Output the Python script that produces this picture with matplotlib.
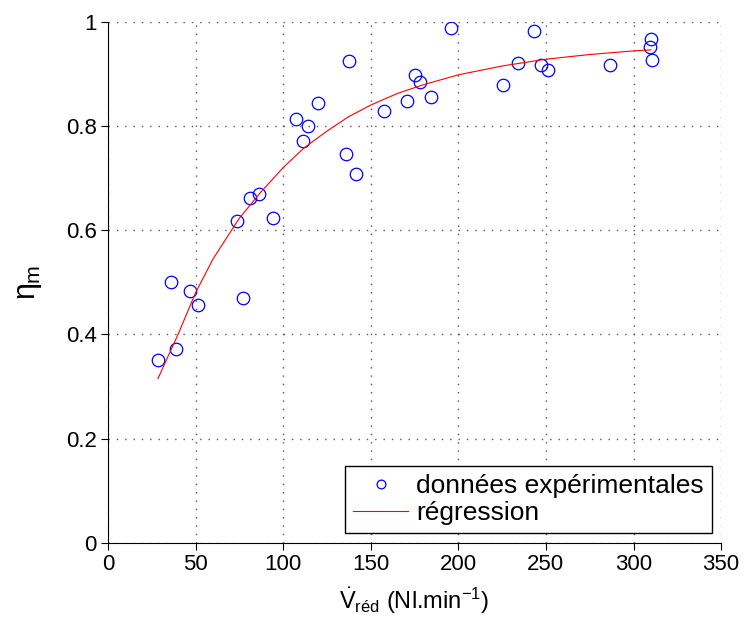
import matplotlib
matplotlib.use("Agg")
import matplotlib.pyplot as plt

plt.rcParams['font.family'] = ['Liberation Sans', 'DejaVu Sans']
plt.rcParams['mathtext.fontset'] = 'custom'
plt.rcParams['mathtext.rm'] = 'Liberation Sans'
plt.rcParams['mathtext.it'] = 'Liberation Sans'
plt.rcParams['mathtext.bf'] = 'Liberation Sans:bold'

# experimental data
x_data = [28.5, 38.8, 35.9, 47.0, 51.5, 77.0, 73.8, 81.2, 86.0, 94.3,
          107.3, 111.3, 114.0, 119.7, 135.9, 137.4, 141.6, 157.6, 170.9,
          175.4, 178.1, 184.2, 195.8, 225.7, 234.3, 243.4, 247.4, 251.2,
          286.6, 309.9, 309.3, 310.8]
y_data = [0.350, 0.372, 0.501, 0.484, 0.456, 0.469, 0.618, 0.662, 0.670,
          0.623, 0.813, 0.771, 0.800, 0.844, 0.747, 0.925, 0.707, 0.828,
          0.848, 0.897, 0.885, 0.855, 0.987, 0.879, 0.920, 0.983, 0.917,
          0.907, 0.916, 0.967, 0.952, 0.927]

# regression curve
x_fit = [28.5, 40, 50, 60, 75, 87, 100, 112, 125, 137, 150, 165, 180,
         200, 225, 250, 275, 300, 310]
y_fit = [0.315, 0.400, 0.480, 0.545, 0.623, 0.672, 0.720, 0.758, 0.790,
         0.817, 0.840, 0.862, 0.879, 0.898, 0.915, 0.928, 0.937, 0.944,
         0.946]

x_ticks = [0, 50, 100, 150, 200, 250, 300, 350]
y_ticks = [0, 0.2, 0.4, 0.6, 0.8, 1]
y_ticklabels = ['0', '0.2', '0.4', '0.6', '0.8', '1']

fig = plt.figure(figsize=(7.44, 6.27), dpi=100)
ax = fig.add_axes([0.1452, 0.1344, 0.824, 0.831])

ax.plot(x_data, y_data, linestyle='none', marker='o', markersize=9,
        markerfacecolor='none', markeredgecolor='#0000ff',
        markeredgewidth=0.9, label='données expérimentales')
ax.plot(x_fit, y_fit, color='red', linewidth=0.8, label='régression')

ax.set_xlim(0, 350)
ax.set_ylim(0, 1)
ax.set_xticks(x_ticks)
ax.set_yticks(y_ticks)
ax.set_yticklabels(y_ticklabels)
ax.tick_params(direction='out', length=5, width=0.8, labelsize=16,
               colors='black', pad=3)

ax.grid(True, linestyle=(0, (1, 5)), linewidth=1.0, color='#555555')
ax.set_axisbelow(True)
ax.spines['top'].set_visible(False)
ax.spines['right'].set_visible(False)
ax.spines['left'].set_linewidth(0.8)
ax.spines['bottom'].set_linewidth(0.8)

ax.set_xlabel(r'$\dot{\mathrm{V}}_{\mathrm{réd}}$ (Nl.min$^{-1}$)', fontsize=17, labelpad=8)
ax.set_ylabel(r'$\eta_\mathrm{m}$', fontsize=22, labelpad=16)

leg = ax.legend(loc='lower right', bbox_to_anchor=(0.985, 0.019),
                borderaxespad=0, fontsize=19, frameon=True, fancybox=False,
                edgecolor='black', framealpha=1, markerscale=0.7,
                handlelength=2.1, handletextpad=0.3, labelspacing=0.1,
                borderpad=0.3)
leg.get_frame().set_linewidth(1.0)

fig.savefig('out.png', dpi=100)
